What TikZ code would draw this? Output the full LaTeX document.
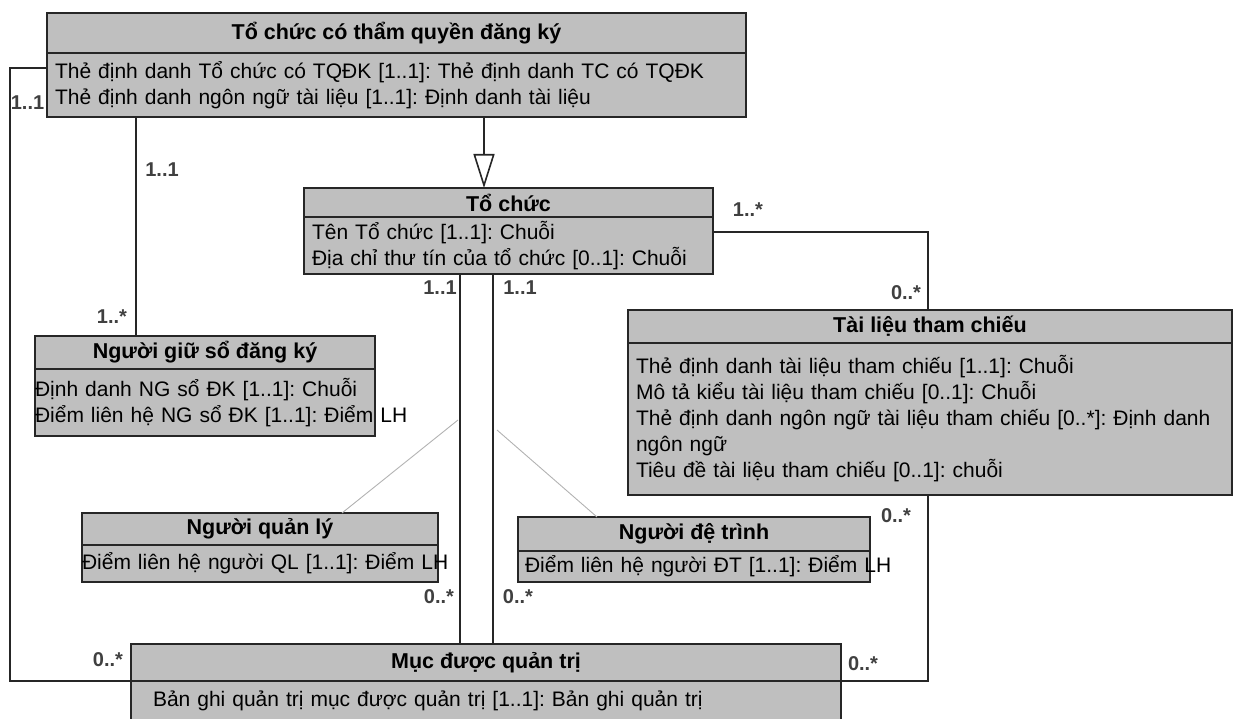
\documentclass[tikz,border=0pt]{standalone}
\usepackage{fontspec}
\setmainfont{Liberation Sans}
\usetikzlibrary{positioning,arrows.meta}
\frenchspacing

\begin{document}
\begin{tikzpicture}[x=1pt, y=-1pt, line width=1.6pt, draw=black!85,
		every node/.style={rectangle, inner sep=0, outer sep=0, font=\fontsize{21}{26}\selectfont},
		head/.style={draw=black!85, fill=black!25, font=\fontsize{21.5}{26}\selectfont\bfseries},
		body/.style={draw=black!85, fill=black!25, align=left},
		mult/.style={font=\fontsize{20}{22}\selectfont\bfseries, text=black!75},
		ghost/.style={draw=black!30, line width=0.9pt}]
		
		\useasboundingbox (0,0) rectangle (1242,719);
		
		\node (A) at (396.5,33) [head, minimum width=699pt, minimum height=40pt] {Tổ chức có thẩm quyền đăng ký};
		\node (A1) [body, below=0pt of A, minimum height=64pt, inner xsep=8pt, text width=683pt] {Thẻ định danh Tổ chức có TQĐK [1..1]: Thẻ định danh TC có TQĐK\\Thẻ định danh ngôn ngữ tài liệu [1..1]: Định danh tài liệu};
		
		\node (B) at (508.5,202.5) [head, minimum width=409pt, minimum height=29pt] {Tổ chức};
		\node (B1) [body, below=0pt of B, minimum height=57pt, inner xsep=8pt, text width=393pt] {Tên Tổ chức [1..1]: Chuỗi\\\mbox{Địa chỉ thư tín của tổ chức [0..1]: Chuỗi}};
		
		\node (C) at (930,326.5) [head, minimum width=604pt, minimum height=33pt] {Tài liệu tham chiếu};
		\node (C1) [body, below=0pt of C, minimum height=152pt, inner xsep=8pt, text width=588pt] {Thẻ định danh tài liệu tham chiếu [1..1]: Chuỗi\\Mô tả kiểu tài liệu tham chiếu [0..1]: Chuỗi\\\mbox{Thẻ định danh ngôn ngữ tài liệu tham chiếu [0..*]: Định danh}\\ngôn ngữ\\Tiêu đề tài liệu tham chiếu [0..1]: chuỗi};
		
		\node (D) at (205,352.5) [head, minimum width=340pt, minimum height=33pt] {Người giữ sổ đăng ký};
		\node (D1) [body, below=0pt of D, minimum height=67pt, text width=340pt] {Định danh NG sổ ĐK [1..1]: Chuỗi\\\mbox{Điểm liên hệ NG sổ ĐK [1..1]: Điểm LH}};
		
		\node (E) at (260,529) [head, minimum width=356pt, minimum height=32pt] {Người quản lý};
		\node (E1) [body, below=0pt of E, minimum height=37pt, text width=356pt] {\mbox{Điểm liên hệ người QL [1..1]: Điểm LH}};
		
		\node (F) at (694,534) [head, minimum width=352pt, minimum height=34pt] {Người đệ trình};
		\node (F1) [body, below=0pt of F, minimum height=31pt, inner xsep=7pt, text width=338pt] {\mbox{Điểm liên hệ người ĐT [1..1]: Điểm LH}};
		
		\node (G) at (486,662.5) [head, minimum width=710pt, minimum height=37pt] {Mục được quản trị};
		\node (G1) [body, below=0pt of G, minimum height=40pt, inner xsep=22pt, text width=666pt] {Bản ghi quản trị mục được quản trị [1..1]: Bản ghi quản trị};
		
		% connectors
		\draw (A1.west |- 0,68) -- ++(-37,0) |- (G.south west);
		\draw (A1.south -| 136,0) -- (D.north -| 136,0);
		\draw[-{Triangle[open,length=34pt,width=21pt]}] (A1.south -| 484,0) -- (B.north -| 484,0);
		\draw (B1.east |- 0,232) -| (C.north -| 928,0);
		\draw (C1.south -| 928,0) |- (G.south east);
		\draw (B1.south -| 460,0) -- (G.north -| 460,0);
		\draw (B1.south -| 493,0) -- (G.north -| 493,0);
		
		% faint lines
		\coordinate (g1) at (458,420);
		\coordinate (g2) at (497,430);
		\draw[ghost] (g1) -- (E.north -| 342,0);
		\draw[ghost] (g2) -- (F.north -| 597,0);
		
		% multiplicities
		\node (m1) at (27.5,103) [mult] {1..1};
		\node (m2) at (162,170) [mult] {1..1};
		\node (m3) at (112,317) [mult] {1..*};
		\node (m4) at (440,288) [mult] {1..1};
		\node (m5) at (520,288) [mult] {1..1};
		\node (m6) at (748,210) [mult] {1..*};
		\node (m7) at (906,293) [mult] {0..*};
		\node (m8) at (896,516) [mult] {0..*};
		\node (m9) at (863,664) [mult] {0..*};
		\node (m10) at (108,660) [mult] {0..*};
		\node (m11) at (439,597) [mult] {0..*};
		\node (m12) at (518,597) [mult] {0..*};
	\end{tikzpicture}
\end{document}
